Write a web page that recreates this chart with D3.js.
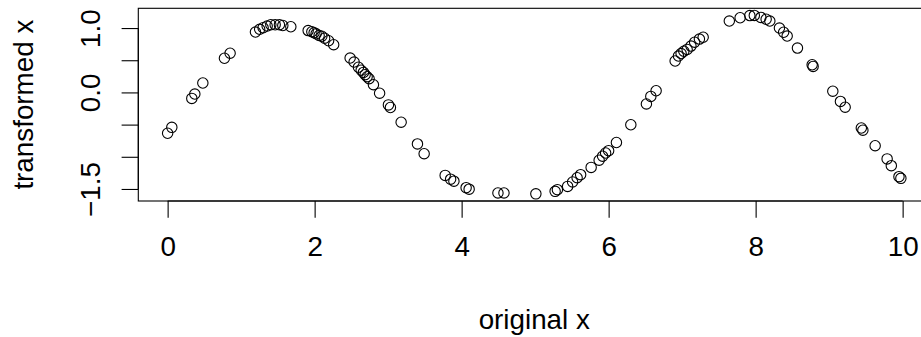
<!DOCTYPE html>
<html>
<head>
<meta charset="utf-8">
<script src="https://cdn.jsdelivr.net/npm/d3@7"></script>
<style>
  html, body { margin: 0; padding: 0; background: #fff; }
  svg { display: block; }
  text { font-family: "Liberation Sans", Arial, Helvetica, sans-serif; fill: #000; }
</style>
</head>
<body>
<svg id="chart" width="921" height="337"></svg>
<script>
// Scatter of original x against transformed x
const originalX = [
  0.00, 0.057, 0.329, 0.370, 0.479, 0.773, 0.850,
  1.195, 1.252, 1.299, 1.354, 1.404, 1.463, 1.521, 1.567, 1.676,
  1.912, 1.962, 1.993, 2.020, 2.061, 2.098, 2.136, 2.190, 2.259,
  2.483, 2.537, 2.596, 2.633, 2.664, 2.687, 2.714, 2.741, 2.800, 2.884, 3.004, 3.031, 3.177,
  3.399, 3.490, 3.776, 3.850, 3.895, 4.061, 4.102, 4.494, 4.576, 5.010,
  5.272, 5.303, 5.442, 5.510, 5.571, 5.619, 5.762, 5.871, 5.918, 5.959, 6.000, 6.106, 6.302, 6.514, 6.574, 6.646,
  6.905, 6.950, 6.986, 7.023, 7.068, 7.120, 7.170, 7.235, 7.286,
  7.642, 7.789, 7.921, 7.982, 8.071, 8.143, 8.193, 8.324, 8.381, 8.429, 8.569,
  8.769, 8.782, 9.050, 9.154, 9.218, 9.438, 9.459, 9.626, 9.789, 9.846, 9.950, 9.976
];
const transformedX = [
  -0.634, -0.543, -0.093, -0.025, 0.146, 0.531, 0.609,
  0.938, 0.981, 1.005, 1.031, 1.051, 1.051, 1.051, 1.040, 1.020,
  0.961, 0.943, 0.927, 0.911, 0.885, 0.873, 0.842, 0.803, 0.741,
  0.534, 0.472, 0.391, 0.345, 0.311, 0.275, 0.244, 0.213, 0.120, -0.012, -0.194, -0.234, -0.463,
  -0.800, -0.952, -1.289, -1.348, -1.379, -1.480, -1.503, -1.562, -1.562, -1.576,
  -1.537, -1.511, -1.460, -1.391, -1.325, -1.278, -1.165, -1.053, -0.991, -0.941, -0.905, -0.778, -0.502, -0.179, -0.062, 0.026,
  0.488, 0.565, 0.604, 0.640, 0.668, 0.720, 0.780, 0.829, 0.857,
  1.109, 1.160, 1.194, 1.196, 1.165, 1.137, 1.109, 1.000, 0.935, 0.876, 0.689,
  0.430, 0.404, 0.019, -0.140, -0.230, -0.553, -0.587, -0.828, -1.033, -1.138, -1.309, -1.335
];
const xTicks = [0, 2, 4, 6, 8, 10];
const xTickLabels = ["0", "2", "4", "6", "8", "10"];
const yTicks = [-1.5, -1.0, -0.5, 0.0, 0.5, 1.0];
const yTickLabels = ["\u22121.5", "", "", "0.0", "", "1.0"];
const xTitle = "original x";
const yTitle = "transformed x";

const svg = d3.select("#chart");
const plot = { left: 138.3, top: 8.3, right: 930.2, bottom: 201 };
const fontPx = 27.8;
const tickLen = 16.7;

// axis ranges padded by 4% on each side
function padded(vals) {
  const [lo, hi] = d3.extent(vals);
  const p = (hi - lo) * 0.04;
  return [lo - p, hi + p];
}

const x = d3.scaleLinear().domain(padded(originalX)).range([plot.left, plot.right]);
const y = d3.scaleLinear().domain(padded(transformedX)).range([plot.bottom, plot.top]);

// plot frame
svg.append("rect")
  .attr("x", plot.left).attr("y", plot.top)
  .attr("width", plot.right - plot.left).attr("height", plot.bottom - plot.top)
  .attr("fill", "none").attr("stroke", "#000").attr("stroke-width", 1.1);

// x axis
const xAxis = d3.axisBottom(x)
  .tickValues(xTicks)
  .tickSize(tickLen)
  .tickSizeOuter(0)
  .tickFormat((d, i) => xTickLabels[i]);
const gx = svg.append("g").attr("transform", `translate(0,${plot.bottom})`).call(xAxis);
gx.select(".domain").remove();
gx.append("line")
  .attr("x1", x(xTicks[0])).attr("x2", x(xTicks[xTicks.length - 1]))
  .attr("stroke", "#000").attr("stroke-width", 1.1);
gx.selectAll(".tick line").attr("stroke", "#000").attr("stroke-width", 1.1);
gx.selectAll(".tick text")
  .attr("y", 55).attr("dy", null)
  .attr("font-size", fontPx).attr("font-family", null);

// y axis
const yAxis = d3.axisLeft(y)
  .tickValues(yTicks)
  .tickSize(tickLen)
  .tickSizeOuter(0)
  .tickFormat((d, i) => yTickLabels[i]);
const gy = svg.append("g").attr("transform", `translate(${plot.left},0)`).call(yAxis);
gy.select(".domain").remove();
gy.append("line")
  .attr("y1", y(yTicks[0])).attr("y2", y(yTicks[yTicks.length - 1]))
  .attr("stroke", "#000").attr("stroke-width", 1.1);
gy.selectAll(".tick line").attr("stroke", "#000").attr("stroke-width", 1.1);
gy.selectAll(".tick text")
  .attr("x", null).attr("dy", null)
  .attr("text-anchor", "middle")
  .attr("transform", "translate(-38.3,0) rotate(-90)")
  .attr("font-size", fontPx).attr("font-family", null);

// points
svg.append("g")
  .selectAll("circle")
  .data(originalX.map((d, i) => [d, transformedX[i]]))
  .join("circle")
  .attr("cx", d => x(d[0]))
  .attr("cy", d => y(d[1]))
  .attr("r", 5.2)
  .attr("fill", "none")
  .attr("stroke", "#000")
  .attr("stroke-width", 1.1);

// axis titles
svg.append("text")
  .attr("x", (plot.left + plot.right) / 2).attr("y", 329)
  .attr("text-anchor", "middle")
  .attr("font-size", fontPx)
  .text(xTitle);

svg.append("text")
  .attr("transform", `translate(33,${(plot.top + plot.bottom) / 2}) rotate(-90)`)
  .attr("text-anchor", "middle")
  .attr("font-size", fontPx)
  .text(yTitle);
</script>
</body>
</html>
